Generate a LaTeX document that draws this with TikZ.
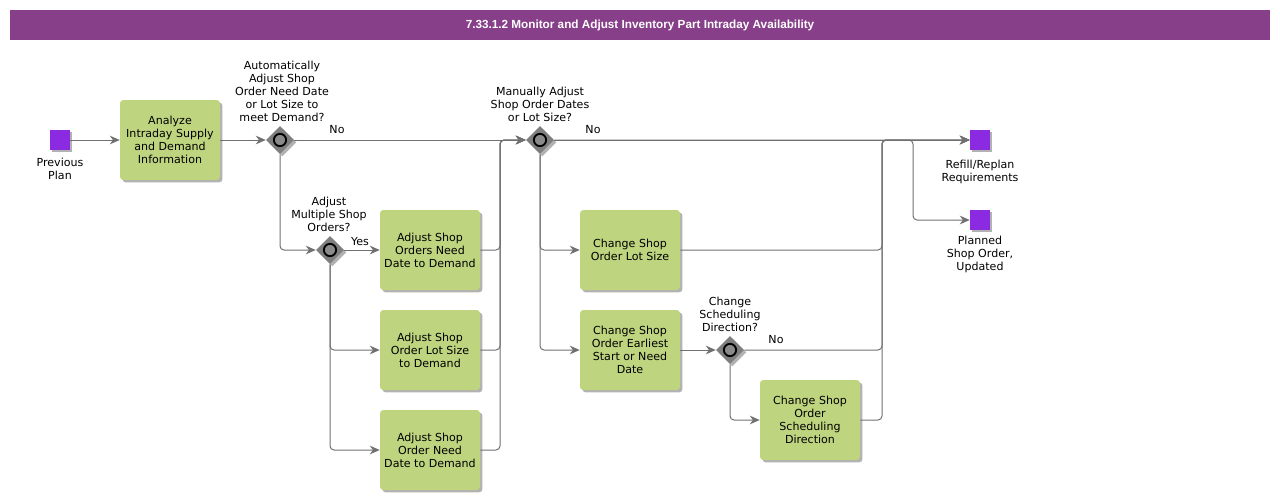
\documentclass[tikz,border=0pt]{standalone}
\usepackage{fontspec}
\setmainfont{DejaVu Sans}
\newfontfamily\titlefont{Liberation Sans}
\usetikzlibrary{shapes.geometric,arrows.meta,shadows}
\definecolor{titlebar}{HTML}{873F8A}
\definecolor{evpurple}{HTML}{8A2BE2}
\definecolor{taskgreen}{HTML}{BED47F}
\definecolor{gwgray}{HTML}{7F7F7F}
\definecolor{circgray}{HTML}{8A8A8A}
\definecolor{linegray}{HTML}{707070}
\begin{document}
\begin{tikzpicture}[x=0.75pt,y=-0.75pt,
  font=\fontsize{8.3}{9.75}\selectfont,
  shad/.style={drop shadow={shadow xshift=1.8pt,shadow yshift=-1.8pt,opacity=0.3,fill=black}},
  task/.style={fill=taskgreen, rounded corners=2.5pt, minimum width=75pt, minimum height=60pt, align=center, inner sep=1pt, shad},
  evt/.style={fill=evpurple, minimum size=15pt, inner sep=0pt, shad},
  gw/.style={diamond, fill=gwgray, minimum width=21pt, minimum height=21pt, inner sep=0pt, shad},
  flow/.style={draw=linegray, line width=0.75pt, -{Stealth[length=7.5pt,width=6.5pt]}, rounded corners=3pt},
  lbl/.style={align=center, inner sep=0pt}
]
\useasboundingbox (0,0) rectangle (1280,500);
\node[fill=titlebar, minimum width=945pt, minimum height=22.5pt, inner sep=0pt, text=white, font=\titlefont\bfseries\fontsize{8.8}{10}\selectfont] (title) at (640,25) {7.33.1.2 Monitor and Adjust Inventory Part Intraday Availability};

% events
\node[evt] (s) at (60,140) {};
\node[lbl, anchor=north] (sl) at (60,158) {Previous\\Plan};
\node[evt] (e1) at (980,140) {};
\node[lbl, anchor=north] (e1l) at (980,160) {Refill/Replan\\Requirements};
\node[evt] (e2) at (980,220) {};
\node[lbl, anchor=north] (e2l) at (980,236) {Planned\\Shop Order,\\Updated};

% tasks
\node[task] (a) at (170,140) {Analyze\\Intraday Supply\\and Demand\\Information};
\node[task] (t1) at (430,250) {Adjust Shop\\Orders Need\\Date to Demand};
\node[task] (t2) at (430,350) {Adjust Shop\\Order Lot Size\\to Demand};
\node[task] (t3) at (430,450) {Adjust Shop\\Order Need\\Date to Demand};
\node[task] (t4) at (630,250) {Change Shop\\Order Lot Size};
\node[task] (t5) at (630,350) {Change Shop\\Order Earliest\\Start or Need\\Date};
\node[task] (t6) at (810,420) {Change Shop\\Order\\Scheduling\\Direction};

% gateways
\node[gw] (g1) at (280,140) {};
\node[gw] (g2) at (330,250) {};
\node[gw] (g3) at (540,140) {};
\node[gw] (g4) at (730,350) {};
\foreach \g in {g1,g2,g3,g4}
  \draw[black, line width=1.4pt, fill=circgray] (\g) circle[radius=4.6pt];

\node[lbl, anchor=south] (g1l) at (282,122) {Automatically\\Adjust Shop\\Order Need Date\\or Lot Size to\\meet Demand?};
\node[lbl, anchor=south] (g2l) at (329,232) {Adjust\\Multiple Shop\\Orders?};
\node[lbl, anchor=south] (g3l) at (540,122) {Manually Adjust\\Shop Order Dates\\or Lot Size?};
\node[lbl, anchor=south] (g4l) at (730,332) {Change\\Scheduling\\Direction?};

% merge coordinates
\coordinate (m1) at (500,140);
\coordinate (m2) at (882,140);
\coordinate (m3) at (913,140);

% flows
\draw[flow] (s) -- (a);
\draw[flow] (a) -- (g1);
\draw[flow] (g1.east) -- (g3.west);
\node[lbl] (no1) at (337,130) {No};
\draw[flow] (g1.south) |- (g2.west);
\draw[flow] (g2.east) -- (t1.west);
\node[lbl] (yes) at (360,242) {Yes};
\draw[flow] (g2.south) |- (t2.west);
\draw[flow] (g2.south) |- (t3.west);
\draw[flow] (t1.east) -| (m1) -- (g3.west);
\draw[flow] (t2.east) -| (m1) -- (g3.west);
\draw[flow] (t3.east) -| (m1) -- (g3.west);

\draw[flow] (g3.east) -- (e1.west);
\node[lbl] (no2) at (593,130) {No};
\draw[flow] (g3.east) -- (m3) |- (e2.west);
\draw[flow] (g3.south) |- (t4.west);
\draw[flow] (g3.south) |- (t5.west);
\draw[flow] (t5) -- (g4);
\draw[flow] (g4.south) |- (t6.west);
\draw[flow] (t4.east) -| (m2) -- (e1.west);
\draw[flow] (g4.east) -- (g4.east -| m2) -- (m2) -- (e1.west);
\node[lbl] (no3) at (776,340) {No};
\draw[flow] (t6.east) -| (m2) -- (e1.west);
\end{tikzpicture}
\end{document}
